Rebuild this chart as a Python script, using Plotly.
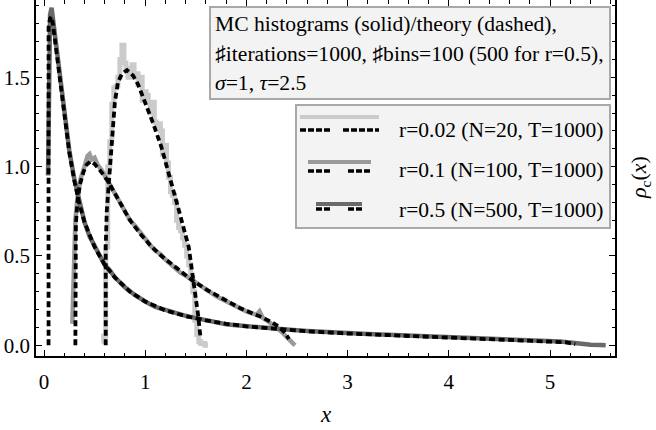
import plotly.graph_objects as go

# ---------------- data ----------------
# r = 0.5 (N=500)
x05_th = [0.045, 0.045, 0.06, 0.075, 0.09, 0.11, 0.13, 0.16, 0.20, 0.25, 0.30, 0.35, 0.40, 0.50, 0.60, 0.70,
          0.85, 1.00, 1.20, 1.40, 1.60, 1.80, 2.00, 2.30, 2.60, 3.00, 3.50, 4.00, 4.50, 5.00, 5.15, 5.25]
y05_th = [0.0, 1.78, 1.83, 1.84, 1.79, 1.70, 1.59, 1.45, 1.27, 1.08, 0.92, 0.79, 0.69, 0.55, 0.45, 0.38,
          0.30, 0.245, 0.195, 0.163, 0.140, 0.120, 0.106, 0.090, 0.078, 0.066, 0.055, 0.045, 0.036, 0.025, 0.017, 0.006]
x05_mc = [0.04, 0.05, 0.06, 0.075, 0.09, 0.11, 0.13, 0.16, 0.2, 0.25, 0.3, 0.35, 0.4, 0.45, 0.5, 0.55, 0.6,
          0.65, 0.7, 0.8, 0.9, 1.0, 1.1, 1.2, 1.3, 1.4, 1.5, 1.6, 1.7, 1.8, 1.9, 2.0, 2.2, 2.4, 2.6, 2.8,
          3.0, 3.2, 3.4, 3.6, 3.8, 4.0, 4.2, 4.4, 4.6, 4.8, 5.0, 5.1, 5.2, 5.3, 5.4, 5.5, 5.55]
y05_mc = [0.95, 1.55, 1.85, 1.89, 1.82, 1.74, 1.63, 1.49, 1.30, 1.09, 0.93, 0.80, 0.69, 0.61, 0.555, 0.50,
          0.45, 0.42, 0.38, 0.325, 0.28, 0.245, 0.215, 0.198, 0.18, 0.165, 0.152, 0.14, 0.128, 0.118, 0.112,
          0.106, 0.097, 0.088, 0.080, 0.073, 0.067, 0.063, 0.059, 0.055, 0.050, 0.046, 0.043, 0.039, 0.035,
          0.030, 0.025, 0.021, 0.016, 0.008, 0.003, 0.001, 0.0]

# r = 0.1 (N=100)
x01_th = [0.31, 0.31, 0.315, 0.33, 0.355, 0.39, 0.42, 0.46, 0.50, 0.56, 0.635, 0.75, 0.85, 0.95, 1.05, 1.15,
          1.31, 1.45, 1.61, 1.74, 1.94, 2.13, 2.25, 2.33, 2.38, 2.42]
y01_th = [0.0, 0.5, 0.68, 0.80, 0.90, 0.97, 1.01, 1.03, 1.015, 0.975, 0.916, 0.80, 0.70, 0.625, 0.56, 0.505,
          0.43, 0.37, 0.31, 0.27, 0.207, 0.162, 0.13, 0.10, 0.07, 0.035]
x01_mc = [0.28, 0.29, 0.30, 0.31, 0.33, 0.36, 0.40, 0.43, 0.45, 0.47, 0.50, 0.53, 0.57, 0.62, 0.68, 0.75,
          0.80, 0.85, 0.90, 0.95, 1.00, 1.05, 1.10, 1.15, 1.20, 1.25, 1.30, 1.35, 1.40, 1.45, 1.50, 1.55,
          1.60, 1.65, 1.70, 1.75, 1.80, 1.85, 1.90, 1.95, 2.00, 2.05, 2.10, 2.13, 2.16, 2.20, 2.25, 2.30,
          2.35, 2.40, 2.44, 2.48]
y01_mc = [0.12, 0.35, 0.55, 0.70, 0.82, 0.93, 1.00, 1.06, 1.07, 1.04, 1.05, 1.01, 0.98, 0.93, 0.87, 0.80,
          0.76, 0.70, 0.67, 0.63, 0.60, 0.56, 0.53, 0.51, 0.48, 0.455, 0.43, 0.405, 0.39, 0.37, 0.35, 0.33,
          0.315, 0.295, 0.275, 0.26, 0.245, 0.23, 0.215, 0.205, 0.19, 0.18, 0.17, 0.19, 0.155, 0.14, 0.12,
          0.10, 0.075, 0.045, 0.02, 0.0]

# r = 0.02 (N=20)
x002_th = [0.61, 0.61, 0.62, 0.64, 0.66, 0.68, 0.70, 0.73, 0.77, 0.82, 0.88, 0.93, 0.98, 1.03, 1.08, 1.16,
           1.245, 1.34, 1.43, 1.475, 1.50, 1.525, 1.545]
y002_th = [0.0, 0.55, 0.75, 0.90, 1.06, 1.25, 1.36, 1.47, 1.52, 1.54, 1.51, 1.46, 1.39, 1.32, 1.24, 1.11,
           0.944, 0.74, 0.55, 0.37, 0.27, 0.16, 0.05]
x002_mc = [0.57, 0.59, 0.61, 0.63, 0.65, 0.67, 0.69, 0.71, 0.73, 0.75, 0.77, 0.79, 0.81, 0.83, 0.85, 0.87,
           0.89, 0.91, 0.93, 0.95, 0.97, 0.99, 1.01, 1.03, 1.05, 1.07, 1.09, 1.11, 1.13, 1.15, 1.17, 1.19,
           1.21, 1.23, 1.25, 1.27, 1.29, 1.31, 1.33, 1.35, 1.37, 1.39, 1.41, 1.43, 1.45, 1.47, 1.49, 1.51,
           1.53, 1.55, 1.57, 1.59, 1.62]
y002_mc = [0.02, 0.05, 0.55, 1.00, 1.14, 1.35, 1.44, 1.45, 1.50, 1.60, 1.68, 1.58, 1.55, 1.50, 1.51, 1.57,
           1.50, 1.52, 1.46, 1.50, 1.37, 1.42, 1.40, 1.36, 1.30, 1.36, 1.25, 1.22, 1.24, 1.20, 1.07, 1.12,
           1.02, 0.94, 0.86, 0.84, 0.80, 0.70, 0.66, 0.64, 0.60, 0.56, 0.50, 0.45, 0.38, 0.30, 0.14, 0.06,
           0.02, 0.01, 0.01, 0.0, 0.0]

x_ticks = [0, 1, 2, 3, 4, 5]
y_ticks = [0.0, 0.5, 1.0, 1.5]

info_lines = ["MC histograms (solid)/theory (dashed),",
              "\u266fiterations=1000, \u266fbins=100 (500 for r=0.5),",
              "<i>\u03c3</i>=1, <i>\u03c4</i>=2.5"]
legend_labels = ["r=0.02 (N=20, T=1000)", "r=0.1 (N=100, T=1000)", "r=0.5 (N=500, T=1000)"]

# ---------------- style ----------------
C_LIGHT, C_MID, C_DARK = "#cbcbcb", "#9a9a9a", "#6a6a6a"
FONT = "Liberation Serif"
DASH = "6px,3.5px"
W, H = 656, 430
ML, MR, MT, MB = 36, 41, 0, 74
PW, PH = W - ML - MR, H - MT - MB


def px(xp):
    return (xp - ML) / PW


def py(yp):
    return (H - MB - yp) / PH


fig = go.Figure()
for xs, ys, col, w, shp in [(x002_mc, y002_mc, C_LIGHT, 5, "hv"),
                            (x01_mc, y01_mc, C_MID, 4.5, "linear"),
                            (x05_mc, y05_mc, C_DARK, 4.5, "linear")]:
    fig.add_trace(go.Scatter(x=xs, y=ys, mode="lines", line=dict(color=col, width=w, shape=shp),
                             showlegend=False, hoverinfo="skip"))
for xs, ys in [(x002_th, y002_th), (x01_th, y01_th), (x05_th, y05_th)]:
    fig.add_trace(go.Scatter(x=xs, y=ys, mode="lines", line=dict(color="black", width=3.8, dash=DASH),
                             showlegend=False, hoverinfo="skip"))
# helper trace for the mirrored axes (top ticks / right frame)
fig.add_trace(go.Scatter(x=[None], y=[None], xaxis="x2", yaxis="y2", showlegend=False, hoverinfo="skip"))

xr = [-0.079, 5.642]
yr = [-0.060, 1.933]
tickfont = dict(family=FONT, size=21, color="black")
fig.update_layout(
    width=W, height=H, margin=dict(l=ML, r=MR, t=MT, b=MB),
    paper_bgcolor="white", plot_bgcolor="white",
    font=dict(family=FONT, size=21, color="black"),
    xaxis=dict(range=xr, tickvals=x_ticks, ticktext=[str(v) for v in x_ticks], ticks="inside", ticklen=6,
               tickwidth=1, tickcolor="black", showline=True, linecolor="black", linewidth=1.5,
               showgrid=False, zeroline=False, tickfont=tickfont, ticklabelstandoff=6,
               minor=dict(dtick=0.2, tick0=0, ticks="inside", ticklen=3.5, tickcolor="black", showgrid=False)),
    yaxis=dict(range=yr, tickvals=y_ticks, ticktext=["%.1f" % v for v in y_ticks], ticks="inside", ticklen=6,
               tickwidth=1, tickcolor="black", showline=True, linecolor="black", linewidth=1.5,
               showgrid=False, zeroline=False, tickfont=tickfont,
               minor=dict(dtick=0.1, tick0=0, ticks="inside", ticklen=3.5, tickcolor="black", showgrid=False)),
    xaxis2=dict(range=xr, overlaying="x", side="top", tickvals=x_ticks, ticks="inside", ticklen=6,
                tickcolor="black", showticklabels=False, showline=False, showgrid=False, zeroline=False,
                minor=dict(dtick=0.2, tick0=0, ticks="inside", ticklen=3.5, tickcolor="black", showgrid=False)),
    yaxis2=dict(range=yr, overlaying="y", side="right", tickvals=y_ticks, ticks="inside", ticklen=6,
                tickcolor="black", showticklabels=False, showline=True, linecolor="black", linewidth=1.5,
                showgrid=False, zeroline=False,
                minor=dict(dtick=0.1, tick0=0, ticks="inside", ticklen=3.5, tickcolor="black", showgrid=False)),
    showlegend=False,
)

shapes = []
annotations = []
# info box
shapes.append(dict(type="rect", xref="paper", yref="paper", x0=px(210), x1=px(610), y0=py(99), y1=py(7),
                   fillcolor="#f3f3f3", line=dict(color="#a8a8a8", width=2), layer="above"))
for txt, yc in zip(info_lines, [24, 54, 83]):
    annotations.append(dict(xref="paper", yref="paper", x=px(213), y=py(yc), xanchor="left", yanchor="middle",
                            text=txt, showarrow=False, font=dict(family=FONT, size=21.6, color="black")))
# legend box
shapes.append(dict(type="rect", xref="paper", yref="paper", x0=px(296), x1=px(610), y0=py(228), y1=py(105),
                   fillcolor="#f3f3f3", line=dict(color="#a8a8a8", width=2), layer="above"))
leg = [  # solid colour, solid span, solid y, dashed groups, dashed y, text y
    (C_LIGHT, (300, 379), 117, [(300, 331), (343, 379)], 130, 130),
    (C_MID, (308, 371), 162, [(308, 331), (348, 371)], 171, 170),
    (C_DARK, (316, 362), 204, [(316, 330), (348, 362)], 209, 210),
]
for (col, (s0, s1), sy, groups, dy, ty), lab in zip(leg, legend_labels):
    shapes.append(dict(type="line", xref="paper", yref="paper", x0=px(s0), x1=px(s1), y0=py(sy), y1=py(sy),
                       line=dict(color=col, width=4), layer="above"))
    for g0, g1 in groups:
        shapes.append(dict(type="line", xref="paper", yref="paper", x0=px(g0), x1=px(g1), y0=py(dy), y1=py(dy),
                           line=dict(color="black", width=3.5, dash="6px,2px"), layer="above"))
    annotations.append(dict(xref="paper", yref="paper", x=px(397), y=py(ty), xanchor="left", yanchor="middle",
                            text=lab, showarrow=False, font=dict(family=FONT, size=21.5, color="black")))
# axis titles
annotations.append(dict(xref="paper", yref="paper", x=0.5, y=py(414), xanchor="center", yanchor="middle",
                        text="<i>x</i>", showarrow=False, font=dict(family=FONT, size=23, color="black")))
annotations.append(dict(xref="paper", yref="paper", x=px(640), y=py(178), xanchor="center", yanchor="middle",
                        text="<i>\u03c1</i><sub>c</sub>(<i>x</i>)", textangle=-90, showarrow=False,
                        font=dict(family=FONT, size=22, color="black")))
fig.update_layout(shapes=shapes, annotations=annotations)

fig.write_html("out.html")
